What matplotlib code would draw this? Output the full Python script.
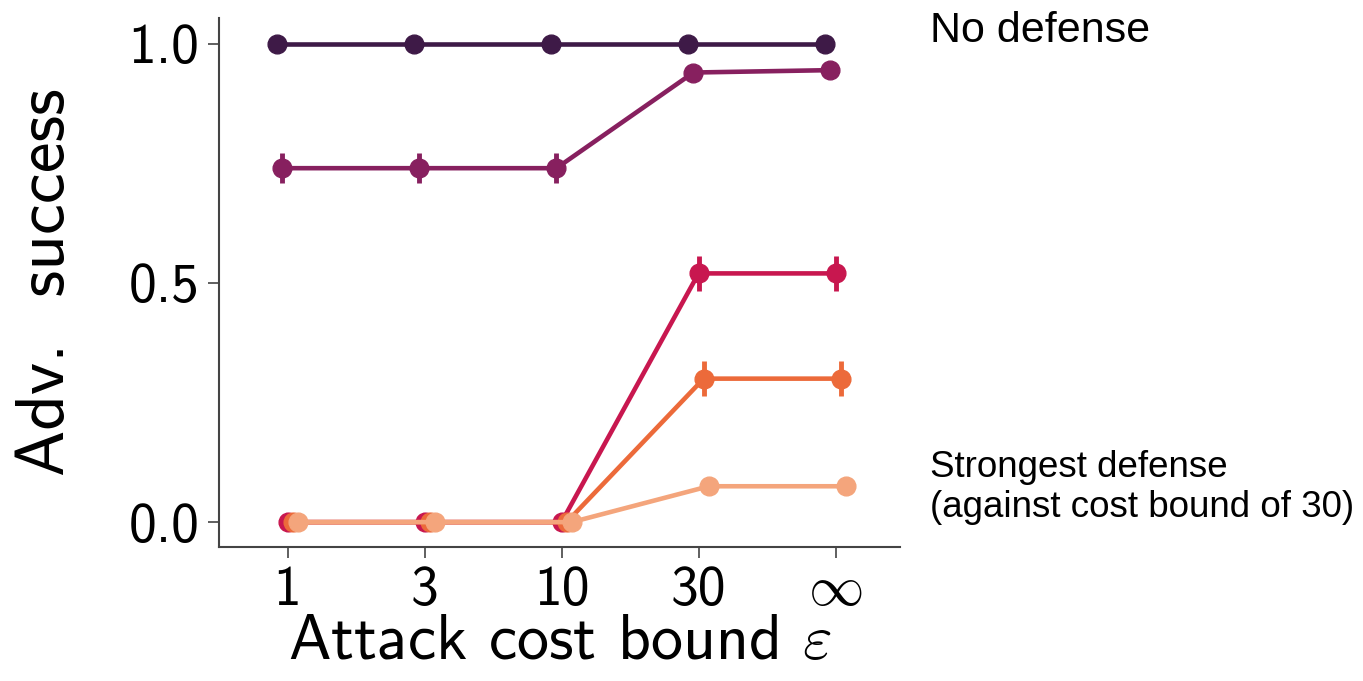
import numpy as np
import matplotlib
matplotlib.use("Agg")
import matplotlib.pyplot as plt

# attack cost bounds (categorical x axis)
cost_labels = ['1', '3', '10', '30', r'$\infty$']

# adversarial success for each defense, from no defense to strongest defense
succ_none = [1.0, 1.0, 1.0, 1.0, 1.0]
succ_d1 = [0.74, 0.74, 0.74, 0.94, 0.945]
succ_d2 = [0.0, 0.0, 0.0, 0.52, 0.52]
succ_d3 = [0.0, 0.0, 0.0, 0.30, 0.30]
succ_d4 = [0.0, 0.0, 0.0, 0.075, 0.075]

err_none = [0.0, 0.0, 0.0, 0.0, 0.0]
err_d1 = [0.031, 0.031, 0.031, 0.006, 0.006]
err_d2 = [0.0, 0.0, 0.0, 0.036, 0.036]
err_d3 = [0.0, 0.0, 0.0, 0.036, 0.036]
err_d4 = [0.0, 0.0, 0.0, 0.006, 0.006]

series = [succ_none, succ_d1, succ_d2, succ_d3, succ_d4]
errs = [err_none, err_d1, err_d2, err_d3, err_d4]
colors = ['#3e1a47', '#87205f', '#c8174f', '#ec6a3a', '#f4a57c']

plt.rcParams['font.family'] = 'cmss10'
plt.rcParams['mathtext.fontset'] = 'cm'
plt.rcParams['axes.unicode_minus'] = False

fig = plt.figure(figsize=(13.63, 6.81), dpi=100)
ax = fig.add_axes([219/1363, 134/681, (900-219)/1363, (547-18)/681])

x = np.arange(len(cost_labels))
offs = np.linspace(-0.075, 0.075, len(series))
for i in range(len(series)):
    ax.errorbar(x + offs[i], series[i], yerr=errs[i], color=colors[i],
                marker='o', ms=13.5, lw=3.3, elinewidth=3.5, capsize=0, zorder=2+i)

ax.set_xlim(-0.5, 4.47)
ax.set_ylim(-0.052, 1.054)
ax.set_xticks(x)
ax.set_xticklabels(cost_labels, fontsize=40)
ax.set_yticks([0.0, 0.5, 1.0])
ax.set_yticklabels(['0.0', '0.5', '1.0'], fontsize=40)
ax.tick_params(length=8, width=1.2, color='#444444', pad=6)
for s in ['top', 'right']:
    ax.spines[s].set_visible(False)
for s in ['left', 'bottom']:
    ax.spines[s].set_linewidth(1.5)
    ax.spines[s].set_color('#444444')

ax.set_xlabel(r'Attack cost bound $\varepsilon$', fontsize=46, labelpad=-2)
ax.set_ylabel('Adv.  success', fontsize=50, labelpad=37)

fig.text(930/1363, 1 - 42/681, 'No defense', family='Liberation Sans',
         fontsize=31, va='baseline', ha='left')
fig.text(930/1363, 1 - 517/681, 'Strongest defense\n(against cost bound of 30)',
         family='Liberation Sans', fontsize=26.5, va='baseline', ha='left',
         linespacing=1.2)

fig.savefig('out.png', dpi=100)
